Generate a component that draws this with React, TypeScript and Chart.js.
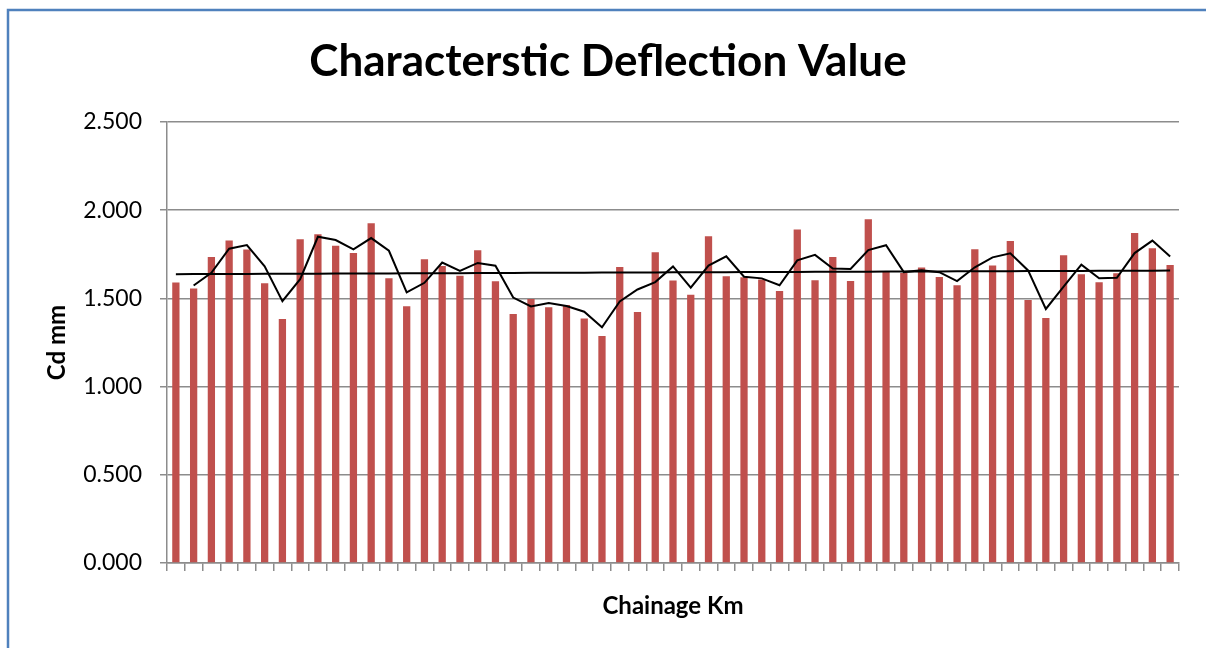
import React, { useEffect, useRef } from "react";
import { Chart, registerables } from "chart.js";

Chart.register(...registerables);

const chartTitle = "Characterstic Deflection Value";
const yAxisTitle = "Cd mm";
const xAxisTitle = "Chainage Km";

const categories = [
  "1", "2", "3", "4", "5", "6", "7", "8", "9", "10",
  "11", "12", "13", "14", "15", "16", "17", "18", "19", "20",
  "21", "22", "23", "24", "25", "26", "27", "28", "29", "30",
  "31", "32", "33", "34", "35", "36", "37", "38", "39", "40",
  "41", "42", "43", "44", "45", "46", "47", "48", "49", "50",
  "51", "52", "53", "54", "55", "56", "57",
];

const deflection = [
  1.590, 1.556, 1.735, 1.828, 1.777, 1.586, 1.383, 1.835, 1.864, 1.798,
  1.758, 1.926, 1.614, 1.455, 1.722, 1.684, 1.629, 1.773, 1.597, 1.412,
  1.497, 1.450, 1.463, 1.386, 1.287, 1.678, 1.423, 1.762, 1.601, 1.521,
  1.852, 1.626, 1.620, 1.607, 1.542, 1.890, 1.603, 1.735, 1.599, 1.949,
  1.654, 1.644, 1.675, 1.622, 1.574, 1.779, 1.686, 1.826, 1.491, 1.389,
  1.745, 1.637, 1.591, 1.643, 1.871, 1.784, 1.690,
];

const yMin = 0;
const yMax = 2.5;
const yStep = 0.5;

// Excel-style trendlines derived from the bar series
function movingAverage(values: number[], period: number): (number | null)[] {
  return values.map((_, i) => {
    if (i < period - 1) return null;
    let s = 0;
    for (let k = i - period + 1; k <= i; k++) s += values[k];
    return s / period;
  });
}

function linearTrend(values: number[]): number[] {
  const n = values.length;
  let sx = 0, sy = 0, sxy = 0, sxx = 0;
  values.forEach((v, i) => {
    const x = i + 1;
    sx += x; sy += v; sxy += x * v; sxx += x * x;
  });
  const slope = (n * sxy - sx * sy) / (n * sxx - sx * sx);
  const intercept = (sy - slope * sx) / n;
  return values.map((_, i) => intercept + slope * (i + 1));
}

const FONT = "Lato, 'Open Sans', sans-serif";
const GRID = "#8c8c8c";

const frameBorder = {
  id: "frameBorder",
  afterDraw(chart: Chart) {
    const ctx = chart.ctx;
    ctx.save();
    ctx.strokeStyle = "#4f81bd";
    ctx.lineWidth = 2.5;
    ctx.beginPath();
    ctx.moveTo(8, chart.height + 2);
    ctx.lineTo(8, 10);
    ctx.lineTo(chart.width + 2, 10);
    ctx.stroke();
    ctx.restore();
  },
};

export default function App() {
  const canvasRef = useRef<HTMLCanvasElement | null>(null);

  useEffect(() => {
    if (!canvasRef.current) return;
    const chart = new Chart(canvasRef.current, {
      type: "bar",
      data: {
        labels: categories,
        datasets: [
          {
            type: "line",
            label: "2 per. Mov. Avg.",
            data: movingAverage(deflection, 2),
            borderColor: "#000000",
            borderWidth: 2,
            pointRadius: 0,
            tension: 0,
            fill: false,
            order: 1,
            yAxisID: "y",
          },
          {
            type: "line",
            label: "Linear",
            data: linearTrend(deflection),
            borderColor: "#000000",
            borderWidth: 2,
            pointRadius: 0,
            tension: 0,
            fill: false,
            order: 1,
            yAxisID: "y",
          },
          {
            type: "bar",
            label: "Cd",
            data: deflection,
            backgroundColor: "#c0504d",
            borderWidth: 0,
            categoryPercentage: 1,
            barPercentage: 0.41,
            order: 2,
            yAxisID: "y",
          },
        ],
      },
      options: {
        responsive: false,
        animation: false,
        devicePixelRatio: 1,
        layout: { padding: { left: 10, right: 0, top: 0, bottom: 0 } },
        plugins: {
          legend: { display: false },
          tooltip: { enabled: false },
          title: {
            display: true,
            text: chartTitle,
            color: "#000000",
            font: { family: FONT, size: 44, weight: "bold", lineHeight: 1.2 },
            padding: { top: 35.6, bottom: 33.6 },
          },
        },
        scales: {
          x: {
            type: "category",
            offset: true,
            grid: {
              display: true,
              offset: true,
              drawOnChartArea: false,
              drawTicks: true,
              tickLength: 8,
              color: GRID,
              lineWidth: 1.5,
            },
            border: { display: true, color: GRID, width: 1.5 },
            ticks: { display: false },
            title: {
              display: true,
              text: xAxisTitle,
              color: "#000000",
              font: { family: FONT, size: 24, weight: "bold", lineHeight: 1.2 },
              padding: { top: 0, bottom: 27.6 },
            },
            afterFit(scale: any) {
              scale.height = 85;
            },
          },
          y: {
            position: "left",
            min: yMin,
            max: yMax,
            ticks: {
              stepSize: yStep,
              color: "#000000",
              font: { family: FONT, size: 23 },
              padding: 18,
              callback: (v: any) => Number(v).toFixed(3),
            },
            grid: {
              color: GRID,
              lineWidth: 1.5,
              drawTicks: true,
              tickLength: 7,
            },
            border: { display: true, color: GRID, width: 1.5 },
            title: {
              display: true,
              text: yAxisTitle,
              color: "#000000",
              font: { family: FONT, size: 24, weight: "bold", lineHeight: 1.2 },
              padding: { top: 33, bottom: 0 },
            },
            afterFit(scale: any) {
              scale.width = 157;
            },
          },
          y2: {
            position: "right",
            display: true,
            min: 0,
            max: 1,
            grid: { display: false, drawTicks: false },
            border: { display: false },
            ticks: { display: false },
            afterFit(scale: any) {
              scale.width = 27;
            },
          },
        },
      },
      plugins: [frameBorder],
    } as any);
    return () => chart.destroy();
  }, []);

  return (
    <div style={{ position: "absolute", left: 0, top: 0, width: 1206, height: 648, background: "#ffffff" }}>
      <canvas ref={canvasRef} width={1206} height={648} style={{ display: "block" }} />
    </div>
  );
}
